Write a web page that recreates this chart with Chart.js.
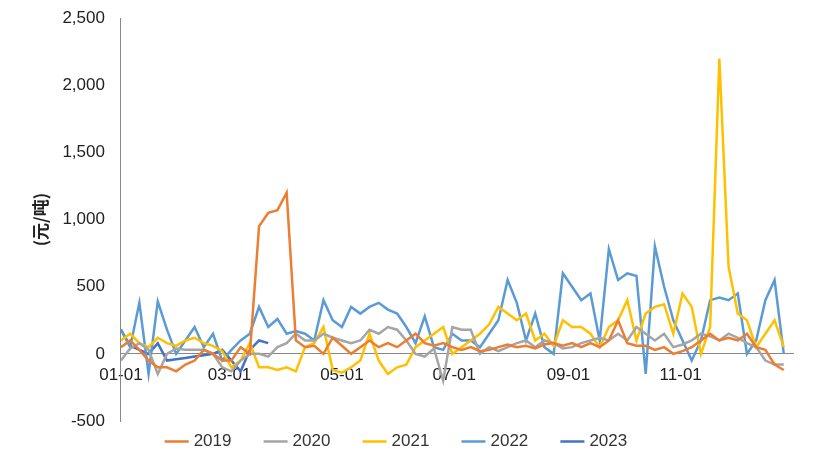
<!DOCTYPE html><html><head><meta charset="utf-8">
<script src="https://cdn.jsdelivr.net/npm/chart.js@4"></script>
<style>body{margin:0;background:#fff}#w{width:813px;height:460px}</style></head><body><div id="w"><canvas id="c"></canvas></div>
<script>
const days=[];for(let d=0;d<=360;d+=5)days.push(d);
const tickDays=[0,59,120,181,243,304];
const tickLabels=['01-01','03-01','05-01','07-01','09-01','11-01'];
const s2019=[50,100,30,-50,-100,-100,-130,-80,-50,30,0,-50,-50,50,0,950,1050,1070,1200,100,50,60,0,120,60,0,50,100,50,80,50,100,150,80,60,80,50,30,50,20,30,50,70,50,60,40,70,80,60,80,50,80,50,100,250,80,60,60,30,50,0,20,50,100,150,100,120,100,150,50,30,-80,-120];
const s2020=[-50,40,80,30,-150,0,40,30,30,30,0,-100,-130,-50,0,0,-20,50,80,150,100,100,150,120,100,80,100,180,150,200,180,100,0,-20,40,-200,200,180,180,0,50,20,50,80,100,50,100,80,40,50,80,100,120,100,150,100,200,150,100,150,50,70,100,150,130,100,150,120,80,50,-50,-80,-80];
const s2021=[100,150,80,50,120,80,60,100,120,80,60,20,-100,-50,80,-100,-100,-120,-100,-130,50,80,200,-120,-140,-100,-50,150,-50,-150,-100,-80,50,100,150,200,0,50,100,150,220,350,300,250,300,100,150,60,250,200,200,150,50,200,250,400,100,300,350,370,150,450,350,0,200,2200,650,300,250,50,150,250,50];
const s2022=[180,50,380,-150,390,180,0,100,200,50,150,-50,30,100,150,350,200,260,150,170,150,100,400,250,200,350,300,350,380,330,300,200,80,280,50,30,150,100,100,50,150,250,550,380,100,300,50,0,600,500,400,450,100,780,550,600,580,-150,800,500,250,100,-50,100,400,420,400,450,0,100,400,550,0];
const s2023=[180,60,30,0,80,-50,-40,-30,-20,-10,0,30,-50,-130,30,100,80];
const names=['2019','2020','2021','2022','2023'];
const colors=['#ED7D31','#A5A5A5','#FFC000','#5B9BD5','#4472C4'];
const series=[s2019,s2020,s2021,s2022,s2023];
new Chart(document.getElementById('c'),{type:'line',
data:{datasets:series.map((s,i)=>({label:names[i],data:s.map((v,j)=>({x:days[j],y:v})),borderColor:colors[i],backgroundColor:colors[i],borderWidth:2.5,pointRadius:0,tension:0}))},
options:{responsive:true,maintainAspectRatio:false,animation:false,
layout:{padding:{left:26,right:20,top:14,bottom:0}},
plugins:{legend:{position:'bottom',labels:{usePointStyle:true,pointStyle:'line',boxWidth:30,padding:12,font:{family:'Liberation Sans',size:17},color:'#333',
generateLabels:ch=>Chart.defaults.plugins.legend.labels.generateLabels(ch).map(l=>({...l,text:l.text+'     '}))}},tooltip:{enabled:false}},
scales:{x:{type:'linear',min:0,max:365,position:{y:0},grid:{display:false,drawTicks:true},border:{color:'#888'},
afterBuildTicks:a=>{a.ticks=tickDays.map(v=>({value:v}));},
ticks:{autoSkip:false,maxRotation:0,font:{family:'Liberation Sans',size:17},color:'#222',callback:v=>tickLabels[tickDays.indexOf(v)]}},
y:{min:-500,max:2500,grid:{display:false},border:{color:'#888'},
ticks:{stepSize:500,padding:8,font:{family:'Liberation Sans',size:17},color:'#222',callback:v=>v.toLocaleString('en-US')},
title:{display:true,text:'(元/吨)',font:{family:'Noto Sans CJK SC',size:17,weight:'bold'},color:'#222'}}}}});
</script></body></html>
